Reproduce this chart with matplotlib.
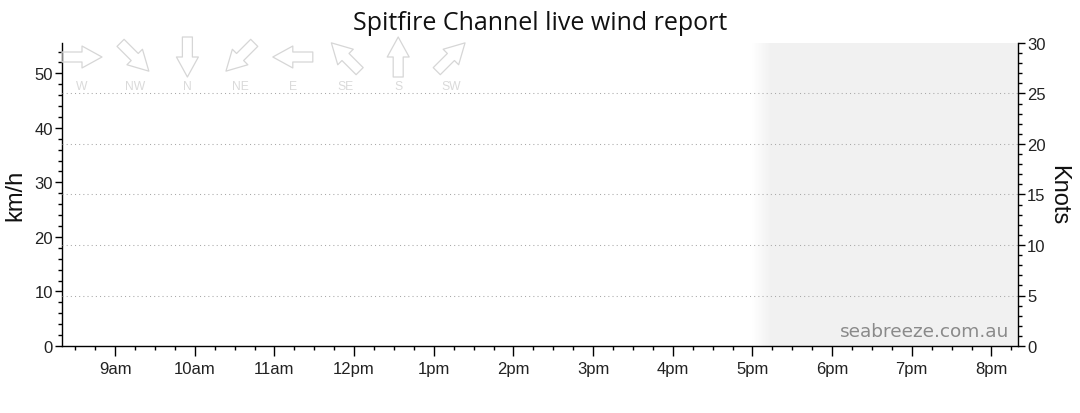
import numpy as np
import matplotlib
matplotlib.use("Agg")
import matplotlib.pyplot as plt
from matplotlib.ticker import MultipleLocator, FixedLocator, FixedFormatter
from matplotlib.patches import FancyArrowPatch
from matplotlib.colors import LinearSegmentedColormap

# ---- data ----
title = "Spitfire Channel live wind report"
hour_ticks = [9, 10, 11, 12, 13, 14, 15, 16, 17, 18, 19, 20]
hour_labels = ["9am", "10am", "11am", "12pm", "1pm", "2pm", "3pm", "4pm",
               "5pm", "6pm", "7pm", "8pm"]
x_start, x_end = 8 + 1/3, 20 + 1/3          # 8:20am .. 8:20pm
shade_start, shade_fade_end = 17.0, 17.25   # greyed-out period after 5pm
knots_max = 30
knot_grid = [5, 10, 15, 20, 25]
kmh_per_knot = 1.852
directions = ["W", "NW", "N", "NE", "E", "SE", "S", "SW"]
arrow_angles = [0, -45, -90, -135, 180, 135, 90, 45]   # downwind direction (deg)
wind_kmh = []   # no observations in the report window

# ---- figure ----
W, H, DPI = 1080, 414, 100
fig = plt.figure(figsize=(W / DPI, H / DPI), dpi=DPI)
ax_l, ax_b, ax_w, ax_h = 62 / W, 1 - 347 / H, (1018 - 62) / W, (347 - 44) / H
ax = fig.add_axes([ax_l, ax_b, ax_w, ax_h])
ax2 = ax.twinx()

kmh_max = knots_max * kmh_per_knot
ax.set_xlim(x_start, x_end)
ax.set_ylim(0, kmh_max)
ax2.set_ylim(0, knots_max)

# shaded region with soft left edge
shade_col = "#f1f1f1"
cmap = LinearSegmentedColormap.from_list("fade", ["#ffffff", shade_col])
grad = np.linspace(0, 1, 64).reshape(1, -1)
ax.imshow(grad, cmap=cmap, aspect="auto", extent=[shade_start, shade_fade_end, 0, kmh_max],
          zorder=0, interpolation="bilinear")
ax.axvspan(shade_fade_end, x_end, color=shade_col, lw=0, zorder=0)
ax.set_xlim(x_start, x_end)
ax.set_ylim(0, kmh_max)

# grid lines at knot values
for k in knot_grid:
    ax2.axhline(k, color="#a8a8a8", lw=0.75, dashes=(1, 3), zorder=1)

if wind_kmh:
    ax.plot(wind_kmh)

# spines
for a in (ax, ax2):
    a.spines["top"].set_visible(False)
    a.set_facecolor("none")
ax.spines["right"].set_visible(False)
ax2.spines["left"].set_visible(False)
ax2.spines["bottom"].set_visible(False)
for sp in ("left", "bottom"):
    ax.spines[sp].set_linewidth(1.0)
ax2.spines["right"].set_linewidth(1.0)

tick_font = dict(family="Liberation Sans", size=12)
label_col = "#222222"

# x axis
ax.xaxis.set_major_locator(FixedLocator(hour_ticks))
ax.xaxis.set_major_formatter(FixedFormatter(hour_labels))
ax.xaxis.set_minor_locator(MultipleLocator(0.25))
ax.tick_params(axis="x", which="major", length=7, width=1, pad=4, labelcolor=label_col)
ax.tick_params(axis="x", which="minor", length=3, width=1)

# left axis
ax.yaxis.set_major_locator(MultipleLocator(10))
ax.yaxis.set_minor_locator(MultipleLocator(2))
ax.tick_params(axis="y", which="major", length=5, width=1, pad=1.5, labelcolor=label_col)
ax.tick_params(axis="y", which="minor", length=3, width=1)

# right axis
ax2.yaxis.set_major_locator(MultipleLocator(5))
ax2.yaxis.set_minor_locator(MultipleLocator(1))
ax2.tick_params(axis="y", which="major", length=5, width=1, pad=1.5, labelcolor=label_col)
ax2.tick_params(axis="y", which="minor", length=3, width=1)

for lab in ax.get_xticklabels() + ax.get_yticklabels() + ax2.get_yticklabels():
    lab.set_fontfamily(tick_font["family"])
    lab.set_fontsize(tick_font["size"])

ax.set_ylabel("km/h", family="Liberation Sans", fontsize=17, color="#111111", labelpad=5.5)
ax2.set_ylabel("Knots", family="Liberation Sans", fontsize=17, color="#111111",
               rotation=270, va="bottom", labelpad=1)

fig.text(0.5, 1 - 23 / H, title, ha="center", va="center",
         family="Open Sans", fontsize=18, color="#111111")

ax.text(0.9906, 0.033, "seabreeze.com.au", transform=ax.transAxes, ha="right",
        va="baseline", family="DejaVu Sans", fontsize=13.3, color="#8a8a8a", zorder=3)

# direction legend arrows
ax_w_px, ax_h_px = ax_w * W, ax_h * H
half_len = 20.0
cx0, dcx = 20 / ax_w_px, 52.7 / ax_w_px
cy_arrow = (347 - 58) / ax_h_px
cy_text = (347 - 87) / ax_h_px
for i, (d, ang) in enumerate(zip(directions, arrow_angles)):
    cx = cx0 + i * dcx
    dx = half_len * np.cos(np.radians(ang)) / ax_w_px
    dy = half_len * np.sin(np.radians(ang)) / ax_h_px
    arr = FancyArrowPatch((cx - dx, cy_arrow - dy), (cx + dx, cy_arrow + dy),
                          transform=ax.transAxes,
                          arrowstyle="simple,head_length=1.44,head_width=1.58,tail_width=0.72",
                          mutation_scale=10, shrinkA=0, shrinkB=0,
                          facecolor="none", edgecolor="#d6d6d6", lw=0.9,
                          clip_on=False, zorder=4)
    ax.add_patch(arr)
    ax.text(cx, cy_text, d, transform=ax.transAxes, ha="center", va="center",
            family="Liberation Sans", fontsize=8.7, color="#dadada", zorder=4)

fig.savefig("out.png", dpi=DPI)
